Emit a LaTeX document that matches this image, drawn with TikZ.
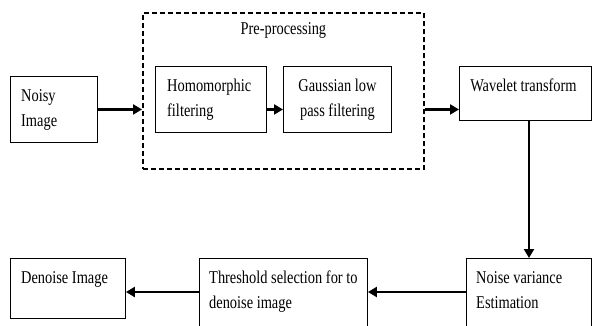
\documentclass[tikz,border=0pt]{standalone}
\usepackage{fontspec}
\setmainfont{Liberation Serif}[FakeStretch=0.8]
\usetikzlibrary{arrows.meta,calc}
\begin{document}
\begin{tikzpicture}[x=1pt,y=-1pt,
  box/.style={draw, line width=0.9pt, inner sep=0pt, anchor=north west},
  prebox/.style={draw, line width=1.8pt, dash pattern=on 5pt off 3pt, inner sep=0pt, anchor=north west},
  lbl/.style={anchor=base west, inner sep=0pt, font=\fontsize{18}{25}\selectfont, align=left},
  clbl/.style={anchor=base, inner sep=0pt, font=\fontsize{18}{25}\selectfont, align=center},
  flow/.style={line width=3pt, -{Triangle[length=9pt,width=10pt]}},
  flowb/.style={line width=2.6pt, -{Triangle[length=9pt,width=10pt]}},
]
\clip (0,0) rectangle (592,326);
% boxes
\node[box, minimum width=87pt, minimum height=66pt] (noisy) at (10,76) {};
\node[prebox, minimum width=281pt, minimum height=156pt] (pre) at (142,12) {};
\node[box, minimum width=111pt, minimum height=66pt] (homo) at (155,66) {};
\node[box, minimum width=108pt, minimum height=66pt] (gauss) at (283,66) {};
\node[box, minimum width=132pt, minimum height=54pt] (wave) at (459,66) {};
\node[box, minimum width=125pt, minimum height=90pt] (noise) at (466,258) {};
\node[box, minimum width=168pt, minimum height=90pt] (thresh) at (199,258) {};
\node[box, minimum width=115pt, minimum height=60pt] (denoise) at (10,258) {};
% texts (two-line nodes: base = last line)
\node[clbl] (pretxt) at ($(pre.north)+(0,23)$) {Pre-processing};
\node[lbl] (noisytxt) at ($(noisy.north west)+(11,51)$) {Noisy\\Image};
\node[lbl] (homotxt) at ($(homo.north west)+(12,51)$) {Homomorphic\\filtering};
\node[clbl] (gausstxt) at ($(gauss.north)+(0,51)$) {Gaussian low\\pass filtering};
\node[clbl] (wavetxt) at ($(wave.north)+(-2,26)$) {Wavelet transform};
\node[lbl] (noisetxt) at ($(noise.north west)+(10,50)$) {Noise variance\\Estimation};
\node[lbl] (threshtxt) at ($(thresh.north west)+(10,50)$) {Threshold selection for to\\denoise image};
\node[lbl] (denoisetxt) at ($(denoise.north west)+(11,25)$) {Denoise Image};
% connectors
\coordinate (preL) at (pre.west |- noisy.east);
\coordinate (preR) at (pre.east |- noisy.east);
\draw[flow] (noisy.east) -- (preL);
\draw[flow] (homo.east |- noisy.east) -- (gauss.west |- noisy.east);
\draw[flow] (preR) -- (wave.west |- preR);
\coordinate (wdown) at (529,0);
\draw[flowb] (wave.south -| wdown) -- (noise.north -| wdown);
\coordinate (brow) at (0,292);
\draw[flowb] (noise.west |- brow) -- (thresh.east |- brow);
\draw[flowb] (thresh.west |- brow) -- (denoise.east |- brow);
\end{tikzpicture}
\end{document}
